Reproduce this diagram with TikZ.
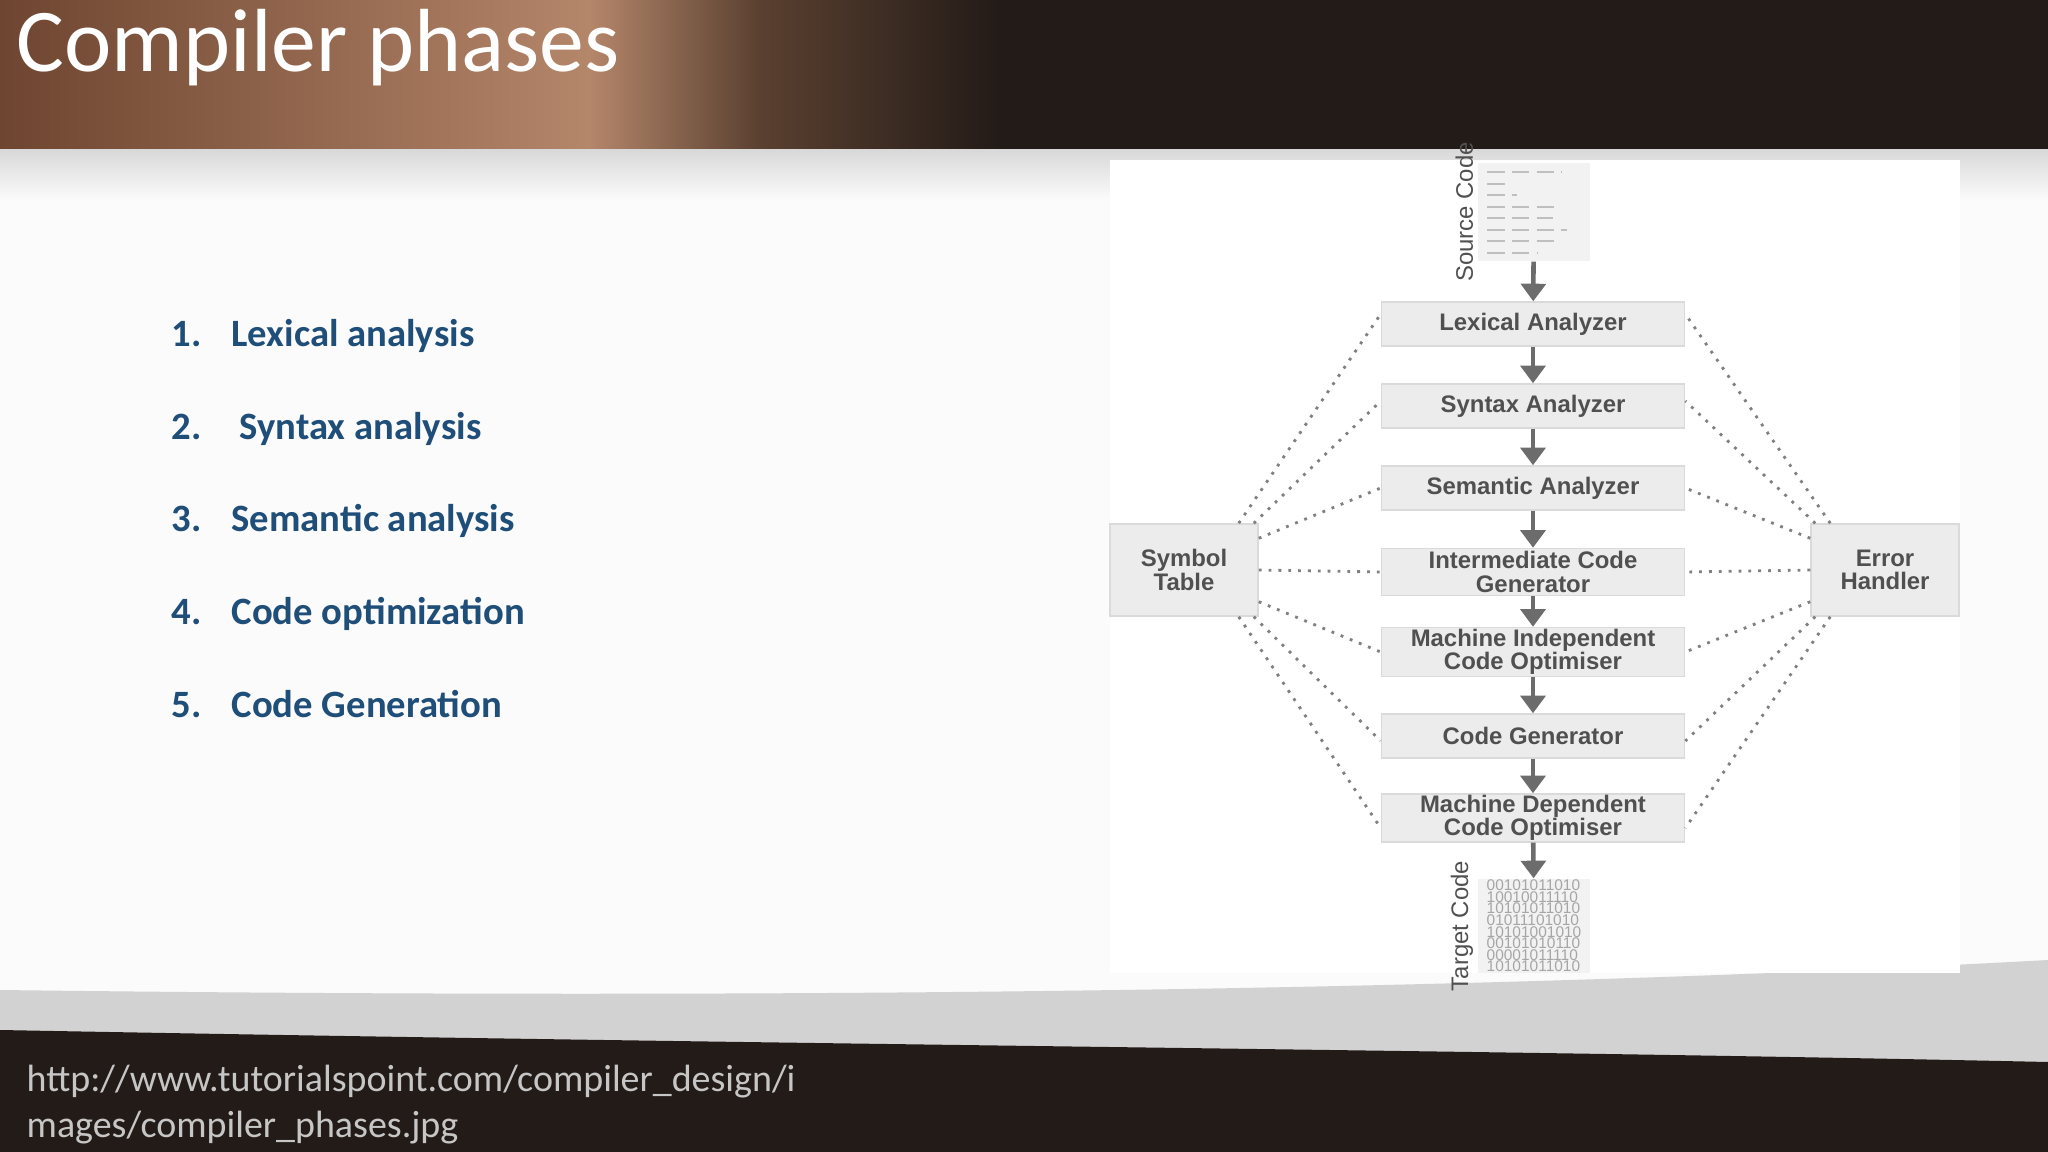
\documentclass[tikz,border=0pt]{standalone}
\usepackage{fontspec}
\setmainfont{Carlito}
\newfontfamily\diag{Liberation Sans}
\usetikzlibrary{arrows.meta}
\definecolor{boxfill}{HTML}{ECECEC}
\definecolor{boxline}{HTML}{DADADA}
\definecolor{dtext}{HTML}{505050}
\definecolor{listblue}{HTML}{1F4E79}
\definecolor{hdA}{HTML}{6E4530}
\definecolor{hdB}{HTML}{B4866A}
\definecolor{hdC}{HTML}{5A4030}
\definecolor{hdD}{HTML}{231B17}
\tikzset{
 phase/.style={draw=boxline,fill=boxfill,minimum width=3.03cm,minimum height=0.44cm,inner sep=0pt,align=center,text=dtext,font=\diag\bfseries\fontsize{6.8}{7.6}\selectfont},
 side/.style={draw=boxline,fill=boxfill,minimum width=1.48cm,minimum height=0.92cm,inner sep=0pt,align=center,text=dtext,font=\diag\bfseries\fontsize{6.8}{7.6}\selectfont},
 flow/.style={draw=gray!85!black,line width=1.3pt,-{Triangle[length=5pt,width=7pt]}},
 dots/.style={draw=gray,line width=0.8pt,dotted},
 item/.style={anchor=base west,inner sep=0pt,text=listblue,font=\bfseries\fontsize{11}{13}\selectfont},
 url/.style={anchor=base west,inner sep=0pt,text=gray!45,font=\fontsize{10.8}{12}\selectfont},
}
\begin{document}
\begin{tikzpicture}[x=0.01cm,y=-0.01cm]
\useasboundingbox (0,0) rectangle (2048,1152);
\fill[white!97!gray] (0,0) rectangle (2048,1152);
% header
\shade[left color=hdA, right color=hdB] (0,0) rectangle (590,150);
\shade[left color=hdB, right color=hdC] (590,0) rectangle (760,150);
\shade[left color=hdC, right color=hdD] (760,0) rectangle (1000,150);
\fill[hdD] (1000,0) rectangle (2048,150);
\shade[top color=gray!30,bottom color=white!97!gray] (0,150) rectangle (2048,200);
\node[anchor=base west,inner sep=0pt,text=white,font=\fontsize{25.5}{28}\selectfont] (title) at (16,72) {Compiler phases};
% bottom band
\fill[gray!35] (0,990) .. controls (800,1000) and (1500,990) .. (2048,960) -- (2048,1152) -- (0,1152) -- cycle;
\fill[hdD] (0,1030) .. controls (800,1045) and (1500,1050) .. (2048,1062) -- (2048,1152) -- (0,1152) -- cycle;
\node[url] (url1) at (26,1091) {http://www.tutorialspoint.com/compiler\_design/i};
\node[url] (url2) at (26,1137) {mages/compiler\_phases.jpg};
% list
\node[item] (n1) at (171,347) {1.\hspace{0.3cm}Lexical analysis};
\node[item] (n2) at (171,440) {2.\hspace{0.38cm}Syntax analysis};
\node[item] (n3) at (171,532) {3.\hspace{0.3cm}Semantic analysis};
\node[item] (n4) at (171,624) {4.\hspace{0.3cm}Code optimization};
\node[item] (n5) at (171,717) {5.\hspace{0.3cm}Code Generation};
% diagram panel
\fill[white] (1110,160) rectangle (1960,973);
\node[phase] (lex) at (1533,324) {Lexical Analyzer};
\node[phase] (syn) at (1533,406) {Syntax Analyzer};
\node[phase] (sem) at (1533,488) {Semantic Analyzer};
\node[phase,minimum height=0.47cm] (icg) at (1533,572) {Intermediate Code\\[-1pt]Generator};
\node[phase,minimum height=0.49cm] (mico) at (1533,652) {Machine Independent\\[-1pt]Code Optimiser};
\node[phase] (cg) at (1533,736) {Code Generator};
\node[phase,minimum height=0.48cm] (mdco) at (1533,818) {Machine Dependent\\[-1pt]Code Optimiser};
\node[side] (st) at (1184,570) {Symbol\\[-1pt]Table};
\node[side] (eh) at (1885,570) {Error\\[-1pt]Handler};
% source / target
\node[fill=boxfill!70,minimum width=1.12cm,minimum height=0.98cm,inner sep=0pt] (src) at (1534,212) {};
\foreach \i/\w in {0/75,1/20,2/30,3/72,4/66,5/80,6/70,7/50}
  \draw[gray!50,line width=0.6pt,dash pattern=on 5pt off 2pt] ([xshift=0.1cm,yshift=-0.1cm-\i*0.115cm]src.north west) -- ++(\w,0);
\node[rotate=90,anchor=south,inner sep=1pt,text=dtext,font=\diag\fontsize{6.8}{7}\selectfont] (srcl) at (src.west) {Source Code};
\node[fill=boxfill!70,minimum width=1.12cm,minimum height=0.94cm,inner sep=0pt,align=left,text=gray!70,font=\diag\fontsize{4.4}{3.3}\selectfont] (tgt) at (1534,926)
 {00101011010\\10010011110\\10101011010\\01011101010\\10101001010\\00101010110\\00001011110\\10101011010};
\node[rotate=90,anchor=south,inner sep=1pt,text=dtext,font=\diag\fontsize{6.8}{7}\selectfont] (tgtl) at (tgt.west) {Target Code};
% flow arrows
\draw[flow] (src) -- (lex);
\draw[flow] (lex) -- (syn);
\draw[flow] (syn) -- (sem);
\draw[flow] (sem) -- (icg);
\draw[flow] (icg) -- (mico);
\draw[flow] (mico) -- (cg);
\draw[flow] (cg) -- (mdco);
\draw[flow] (mdco) -- (tgt);
% dotted links
\draw[dots] ([xshift=-0.2cm]st.north east) -- ([yshift=0.1cm]lex.west);
\draw[dots] ([xshift=-0.05cm]st.north east) -- ([yshift=0.05cm]syn.west);
\draw[dots] ([yshift=-0.15cm]st.north east) -- (sem.west);
\draw[dots] (st.east) -- (icg.west);
\draw[dots] ([yshift=0.15cm]st.south east) -- (mico.west);
\draw[dots] ([xshift=-0.05cm]st.south east) -- ([yshift=-0.05cm]cg.west);
\draw[dots] ([xshift=-0.2cm]st.south east) -- ([yshift=-0.1cm]mdco.west);
\draw[dots] ([xshift=0.2cm]eh.north west) -- ([yshift=0.1cm]lex.east);
\draw[dots] ([xshift=0.05cm]eh.north west) -- ([yshift=0.05cm]syn.east);
\draw[dots] ([yshift=-0.15cm]eh.north west) -- (sem.east);
\draw[dots] (eh.west) -- (icg.east);
\draw[dots] ([yshift=0.15cm]eh.south west) -- (mico.east);
\draw[dots] ([xshift=0.05cm]eh.south west) -- ([yshift=-0.05cm]cg.east);
\draw[dots] ([xshift=0.2cm]eh.south west) -- ([yshift=-0.1cm]mdco.east);
\end{tikzpicture}
\end{document}
